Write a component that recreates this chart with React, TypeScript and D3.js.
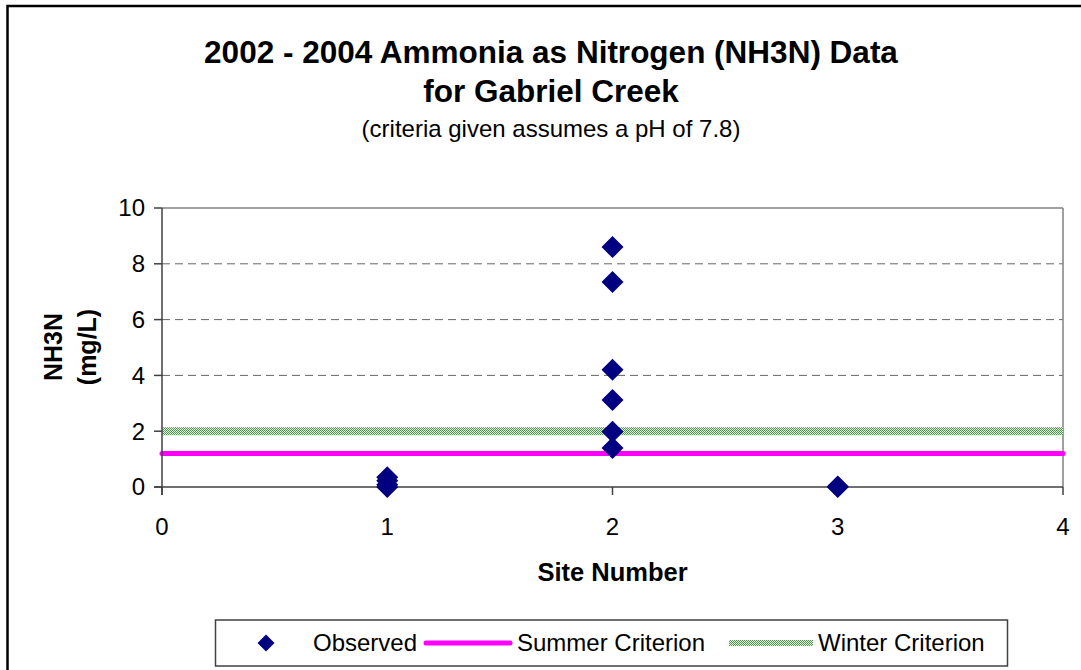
import * as React from "react";
import { scaleLinear } from "d3";

// observed NH3N samples by site
const siteNumbers = [1, 1, 1, 1, 2, 2, 2, 2, 2, 2, 3, 3];
const nh3nValues = [0.35, 0.22, 0.08, 0.0, 8.6, 7.35, 4.2, 3.12, 1.98, 1.4, 0.02, 0.0];

const summerCriterion = 1.2;
const winterCriterion = 2.0;

const xTicks = [0, 1, 2, 3, 4];
const yTicks = [0, 2, 4, 6, 8, 10];

const titleLines = ["2002 - 2004 Ammonia as Nitrogen (NH3N) Data", "for Gabriel Creek"];
const subtitle = "(criteria given assumes a pH of 7.8)";
const legendLabels = ["Observed", "Summer Criterion", "Winter Criterion"];

const W = 1081;
const H = 670;
const plot = { left: 162, right: 1063, top: 208, bottom: 487 };

const diamond = (cx: number, cy: number, r: number) =>
  `M${cx},${cy - r}L${cx + r},${cy}L${cx},${cy + r}L${cx - r},${cy}Z`;

export default function App() {
  const x = scaleLinear().domain([0, 4]).range([plot.left, plot.right]);
  const y = scaleLinear().domain([0, 10]).range([plot.bottom, plot.top]);
  const font = "'Liberation Sans', Arial, sans-serif";
  const navy = "#000080";
  const magenta = "#ff00ff";

  return (
    <svg
      width={W}
      height={H}
      style={{ position: "absolute", left: 0, top: 0, fontFamily: font, background: "#fff" }}
    >
      <defs>
        <pattern id="winter" width="2" height="2" patternUnits="userSpaceOnUse">
          <rect width="2" height="2" fill="#e6f2e6" />
          <rect width="1" height="1" fill="#4a9a4a" />
          <rect x="1" y="1" width="1" height="1" fill="#4a9a4a" />
        </pattern>
      </defs>

      {/* outer frame */}
      <rect x={7.5} y={6} width={W + 20} height={H + 20} fill="none" stroke="#000" strokeWidth={2.5} />

      {/* titles */}
      {titleLines.map((t, i) => (
        <text key={t} x={551} y={63 + i * 39} textAnchor="middle" fontSize={31.5} fontWeight="bold">
          {t}
        </text>
      ))}
      <text x={551} y={137} textAnchor="middle" fontSize={24}>
        {subtitle}
      </text>

      {/* gridlines */}
      {yTicks
        .filter((t) => t > 0 && t < 10)
        .map((t) => (
          <line
            key={t}
            x1={plot.left}
            x2={plot.right}
            y1={y(t)}
            y2={y(t)}
            stroke="#666"
            strokeDasharray="8,5"
          />
        ))}

      {/* plot frame */}
      <line x1={plot.left} x2={plot.right} y1={plot.top} y2={plot.top} stroke="#808080" strokeWidth={1.5} />
      <line x1={plot.right} x2={plot.right} y1={plot.top} y2={plot.bottom} stroke="#808080" strokeWidth={1.5} />

      {/* criteria */}
      <rect
        x={plot.left}
        width={plot.right - plot.left}
        y={y(winterCriterion) - 4}
        height={8}
        fill="url(#winter)"
      />
      <line
        x1={plot.left}
        x2={plot.right}
        y1={y(summerCriterion)}
        y2={y(summerCriterion)}
        stroke={magenta}
        strokeWidth={5}
        strokeLinecap="round"
      />

      {/* axes */}
      <line x1={plot.left} x2={plot.left} y1={plot.top} y2={plot.bottom + 8} stroke="#404040" strokeWidth={1.5} />
      <line x1={plot.left - 8} x2={plot.right} y1={plot.bottom} y2={plot.bottom} stroke="#404040" strokeWidth={1.5} />
      {yTicks.map((t) => (
        <g key={t}>
          <line x1={plot.left - 8} x2={plot.left} y1={y(t)} y2={y(t)} stroke="#404040" strokeWidth={1.5} />
          <text x={plot.left - 17} y={y(t)} dy="0.35em" textAnchor="end" fontSize={24}>
            {t}
          </text>
        </g>
      ))}
      {xTicks.map((t) => (
        <g key={t}>
          <line x1={x(t)} x2={x(t)} y1={plot.bottom} y2={plot.bottom + 8} stroke="#404040" strokeWidth={1.5} />
          <text x={x(t)} y={plot.bottom + 48} textAnchor="middle" fontSize={24}>
            {t}
          </text>
        </g>
      ))}

      {/* observed points */}
      {nh3nValues.map((v, i) => (
        <path key={i} d={diamond(x(siteNumbers[i]), y(v), 11)} fill={navy} />
      ))}

      {/* axis titles */}
      <text x={x(2)} y={581} textAnchor="middle" fontSize={25.5} fontWeight="bold">
        Site Number
      </text>
      <g transform="translate(62,347) rotate(-90)">
        <text x={0} y={0} textAnchor="middle" fontSize={25} fontWeight="bold">
          NH3N
        </text>
        <text x={0} y={34} textAnchor="middle" fontSize={25} fontWeight="bold">
          (mg/L)
        </text>
      </g>

      {/* legend */}
      <g>
        <rect x={215.5} y={620} width={792} height={46} fill="#fff" stroke="#404040" strokeWidth={1.5} />
        <path d={diamond(266, 643, 8.5)} fill={navy} />
        <text x={313} y={643} dy="0.35em" fontSize={24}>
          {legendLabels[0]}
        </text>
        <line x1={426} x2={510} y1={643} y2={643} stroke={magenta} strokeWidth={5} strokeLinecap="round" />
        <text x={517} y={643} dy="0.35em" fontSize={24}>
          {legendLabels[1]}
        </text>
        <rect x={729} y={640} width={84} height={6} fill="url(#winter)" />
        <text x={818} y={643} dy="0.35em" fontSize={24}>
          {legendLabels[2]}
        </text>
      </g>
    </svg>
  );
}
